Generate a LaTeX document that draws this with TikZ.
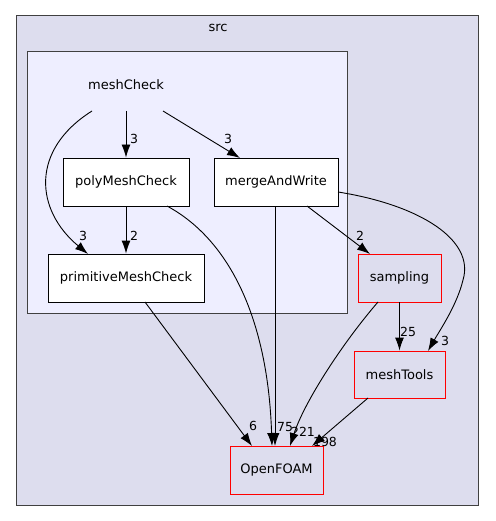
\documentclass[tikz,border=0pt]{standalone}
\usepackage{fontspec}
\setmainfont{DejaVu Sans}
\usetikzlibrary{arrows.meta}
\definecolor{clusterbg}{HTML}{DDDDEE}
\definecolor{innerbg}{HTML}{EEEEFF}
\definecolor{frame}{HTML}{404040}
\tikzset{
  lbl/.style={font=\fontsize{13}{15}\selectfont, inner sep=0pt},
  dirbox/.style={draw=black, fill=white, line width=0.9pt, font=\fontsize{13}{15}\selectfont, inner sep=0pt},
  extbox/.style={draw=red, fill=clusterbg, line width=0.9pt, font=\fontsize{13}{15}\selectfont, inner sep=0pt},
  dep/.style={draw=black, line width=0.9pt, -{Latex[length=13pt,width=9pt]}},
  elbl/.style={font=\fontsize{12.5}{14}\selectfont, inner sep=0pt}
}
\begin{document}
\begin{tikzpicture}[x=1pt,y=-1pt]
\useasboundingbox (0,0) rectangle (495,521);
\fill[white] (0,0) rectangle (495,521);
% clusters
\draw[frame, fill=clusterbg, line width=1pt] (16,16) rectangle (478,505);
\node[lbl] (srcl) at (218,28) {src};
\draw[frame, fill=innerbg, line width=1pt] (27,52) rectangle (347,313);
\node[lbl, minimum width=126pt, minimum height=52pt] (mc) at (126,85) {meshCheck};
% nodes
\node[dirbox, minimum width=126pt, minimum height=48pt] (poly) at (126,182) {polyMeshCheck};
\node[dirbox, minimum width=124pt, minimum height=48pt] (merge) at (276,182) {mergeAndWrite};
\node[dirbox, minimum width=156pt, minimum height=48pt] (prim) at (126,278) {primitiveMeshCheck};
\node[extbox, minimum width=83pt, minimum height=48pt] (samp) at (399.5,278) {sampling};
\node[extbox, minimum width=91pt, minimum height=47pt] (mt) at (399.5,374.5) {meshTools};
\node[extbox, minimum width=93pt, minimum height=48pt] (of) at (276.5,470) {OpenFOAM};
% edges
\coordinate (mcA) at (92,111);
\coordinate (mcB) at (126,111);
\coordinate (mcC) at (163,111);
\draw[dep] (mcB) -- (poly.north);
\node[elbl] (l1) at (134,139) {3};
\draw[dep] (mcC) -- (240,158);
\node[elbl] (l2) at (228,139) {3};
\draw[dep] (mcA) .. controls (30,150) and (35,210) .. (88,254);
\node[elbl] (l3) at (83,236) {3};
\draw[dep] (poly.south) -- (prim.north);
\node[elbl] (l4) at (134,236) {2};
\draw[dep] (167,206) .. controls (230,240) and (268,320) .. (272,446);
\draw[dep] (275,206) -- (275,446);
\node[elbl] (l5) at (285,427) {75};
\draw[dep] (307,206) -- (370,254);
\node[elbl] (l6) at (360,236) {2};
\draw[dep] (338,192) .. controls (420,205) and (475,240) .. (463,280) .. controls (457,305) and (440,330) .. (428,351);
\node[elbl] (l7) at (445,341) {3};
\draw[dep] (samp.south) -- (mt.north);
\node[elbl] (l8) at (408,332) {25};
\draw[dep] (378,302) .. controls (345,340) and (305,400) .. (290,446);
\node[elbl] (l9) at (303,432) {221};
\draw[dep] (145,302) -- (252,446);
\node[elbl] (l10) at (253,426) {6};
\draw[dep] (368,398) -- (312,446);
\node[elbl] (l11) at (325,442) {198};
\end{tikzpicture}
\end{document}
